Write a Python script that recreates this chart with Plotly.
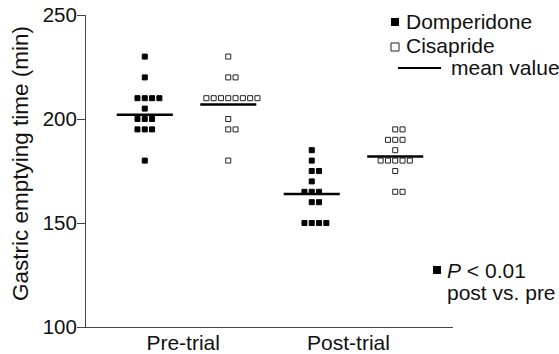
import plotly.graph_objects as go
from collections import Counter

# ---- data ----
groups = ["Pre-trial", "Post-trial"]
dom_pre = [230, 220, 210, 210, 210, 210, 205, 200, 200, 200, 195, 195, 195, 180]
cis_pre = [230, 220, 220, 210, 210, 210, 210, 210, 210, 210, 210, 200, 195, 195, 180]
dom_post = [185, 180, 175, 175, 170, 165, 165, 165, 160, 160, 150, 150, 150, 150]
cis_post = [195, 195, 190, 190, 190, 185, 180, 180, 180, 180, 180, 175, 165, 165]
mean_dom = [202, 164]   # pre, post
mean_cis = [207, 182]   # pre, post
y_ticks = [100, 150, 200, 250]

FONT = "Liberation Sans, Arial, sans-serif"
W, H = 559, 354
L, R, T, B = 86, 106, 15, 27
DX = 0.25          # drug offset from group centre
STEP = 0.0437      # horizontal step between tied points
HALF = 0.168       # half width of mean line


def swarm(values, centre):
    cnt = Counter(values)
    seen = Counter()
    xs = []
    for v in values:
        n = cnt[v]
        i = seen[v]
        seen[v] += 1
        xs.append(centre + (i - (n - 1) // 2) * STEP)
    return xs


fig = go.Figure()
series = [
    (dom_pre, 1 - DX, "square", "black"),
    (cis_pre, 1 + DX, "square-open", "#222"),
    (dom_post, 2 - DX, "square", "black"),
    (cis_post, 2 + DX, "square-open", "#222"),
]
for vals, c, sym, col in series:
    fig.add_trace(go.Scatter(
        x=swarm(vals, c), y=vals, mode="markers",
        marker=dict(symbol=sym, size=5, color=col, line=dict(width=1, color=col)),
        showlegend=False, hoverinfo="skip"))

for gi in range(2):
    for m, off in ((mean_dom[gi], -DX), (mean_cis[gi], DX)):
        c = gi + 1 + off
        fig.add_trace(go.Scatter(x=[c - HALF, c + HALF], y=[m, m], mode="lines",
                                 line=dict(color="black", width=2.5),
                                 showlegend=False, hoverinfo="skip"))

pw = W - L - R
ph = H - T - B


def px(x):
    return (x - L) / pw


def py(y):
    return (H - B - y) / ph


# legend built from shapes + annotations
fig.add_shape(type="rect", xref="paper", yref="paper",
              x0=px(391), x1=px(399), y0=py(26), y1=py(18),
              fillcolor="black", line=dict(width=0))
fig.add_shape(type="rect", xref="paper", yref="paper",
              x0=px(391), x1=px(399), y0=py(51), y1=py(43),
              fillcolor="white", line=dict(width=1, color="#222"))
fig.add_shape(type="line", xref="paper", yref="paper",
              x0=px(398), x1=px(441), y0=py(68), y1=py(68),
              line=dict(width=2, color="black"))
fig.add_shape(type="rect", xref="paper", yref="paper",
              x0=px(433), x1=px(441), y0=py(274), y1=py(266),
              fillcolor="black", line=dict(width=0))

def ann(text, x, y, size=21):
    fig.add_annotation(text=text, xref="paper", yref="paper", x=px(x), y=py(y),
                       xanchor="left", yanchor="middle", showarrow=False,
                       font=dict(family=FONT, size=size, color="#111"))

ann("Domperidone", 404, 21)
ann("Cisapride", 404, 46)
ann("mean value", 449, 68)
ann("<i>P</i> < 0.01", 445, 270)
ann("post vs. pre", 445, 292)

fig.add_annotation(text="Gastric emptying time (min)", xref="paper", yref="paper",
                   x=px(20), y=py(164), textangle=-90, xanchor="center", yanchor="middle",
                   showarrow=False, font=dict(family=FONT, size=22.5, color="#111"))

fig.update_layout(
    template="none",
    width=W, height=H, margin=dict(l=L, r=R, t=T, b=B, pad=0, autoexpand=False),
    paper_bgcolor="white", plot_bgcolor="white",
    font=dict(family=FONT, size=21, color="#111"),
    xaxis=dict(range=[0.398, 2.596], tickvals=[0.98, 1.97], ticktext=groups,
               showline=True, linecolor="#444", linewidth=1, ticks="",
               ticklabelstandoff=-3, tickfont=dict(size=21),
               showgrid=False, zeroline=False, fixedrange=True, automargin=False),
    yaxis=dict(range=[100, 250], tickvals=y_ticks, showline=True, linecolor="#444",
               linewidth=1, ticks="outside", ticklen=8, tickcolor="#444",
               ticklabelstandoff=-4, tickfont=dict(size=20.5),
               showgrid=False, zeroline=False, fixedrange=True, automargin=False),
)

fig.write_html("out.html", config={"displayModeBar": False},
               post_script="document.body.style.margin='0px';")
